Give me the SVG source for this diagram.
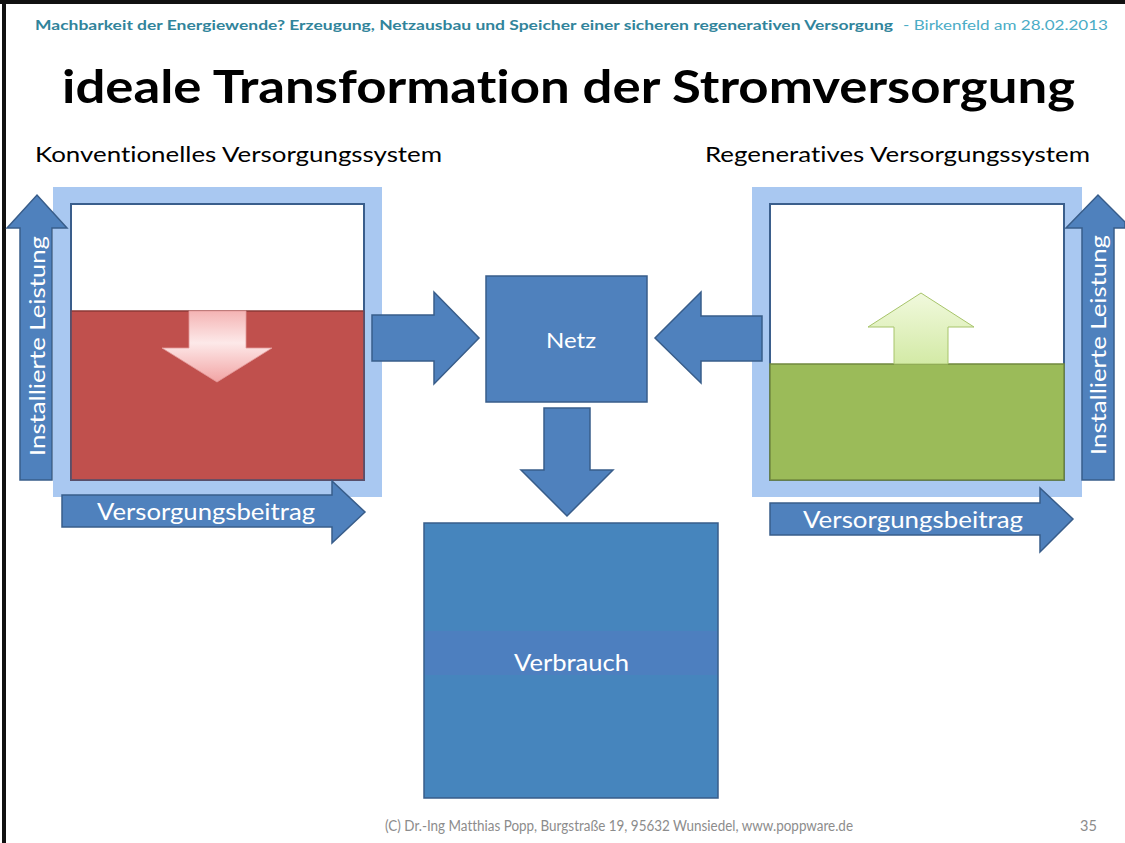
<svg xmlns="http://www.w3.org/2000/svg" width="1125" height="843" viewBox="0 0 1125 843">
  <defs>
    <linearGradient id="pinkGrad" x1="0" y1="0" x2="0" y2="1">
      <stop offset="0" stop-color="#f4b4b4"/>
      <stop offset="0.45" stop-color="#fde9e9"/>
      <stop offset="1" stop-color="#f2a4a4"/>
    </linearGradient>
    <linearGradient id="greenGrad" x1="0" y1="0" x2="0" y2="1">
      <stop offset="0" stop-color="#f1f9dd"/>
      <stop offset="1" stop-color="#d3eaa6"/>
    </linearGradient>
    <style>
      text { font-variant-ligatures: none; font-feature-settings: "liga" 0; }
      .arrow { fill: #4f81bd; stroke: #385d8a; stroke-width: 1.5; stroke-linejoin: miter; }
      .frame { fill: #a9c8f1; }
      .inner { fill: #ffffff; stroke: #3b5f8c; stroke-width: 2; }
      .wtxt { fill: #ffffff; font-family: Lato, "Open Sans", "Liberation Sans", sans-serif; }
      .btxt { fill: #000000; font-family: Lato, "Open Sans", "Liberation Sans", sans-serif; }
    </style>
  </defs>

  <rect x="0" y="0" width="1125" height="843" fill="#ffffff"/>
  <!-- slide border -->
  <rect x="0" y="0" width="1125" height="4" fill="#111111"/>
  <rect x="2" y="0" width="4" height="843" fill="#111111"/>

  <!-- header -->
  <g id="header">
    <text x="35" y="30" font-family="Lato, 'Open Sans', 'Liberation Sans', sans-serif" font-size="13.5" font-weight="bold" fill="#31849b" textLength="858" lengthAdjust="spacingAndGlyphs">Machbarkeit der Energiewende?  Erzeugung, Netzausbau und Speicher einer sicheren regenerativen Versorgung</text>
    <text x="903" y="30" font-family="Lato, 'Open Sans', 'Liberation Sans', sans-serif" font-size="13.5" fill="#4bacc6" textLength="205" lengthAdjust="spacingAndGlyphs">- Birkenfeld am 28.02.2013</text>
  </g>

  <g id="title">
    <text x="62" y="103" class="btxt" font-size="46" font-weight="bold" textLength="1013" lengthAdjust="spacingAndGlyphs">ideale Transformation der Stromversorgung</text>
  </g>

  <g id="subtitles">
    <text x="35" y="162" class="btxt" font-size="22" textLength="407" lengthAdjust="spacingAndGlyphs">Konventionelles Versorgungssystem</text>
    <text x="705" y="162" class="btxt" font-size="22" textLength="385" lengthAdjust="spacingAndGlyphs">Regeneratives Versorgungssystem</text>
  </g>

  <!-- conventional system -->
  <g id="konventionell">
    <rect class="frame" x="53" y="187" width="329" height="310"/>
    <rect class="inner" x="71" y="204" width="293" height="276"/>
    <rect x="71" y="311" width="293" height="169" fill="#c0504d" stroke="#8c3836" stroke-width="1.5"/>
    <rect x="71" y="204" width="293" height="276" fill="none" stroke="#3b5f8c" stroke-width="1"/>
    <polygon points="189,311 246,311 246,348 272,348 217,382 162,348 189,348" fill="url(#pinkGrad)" stroke="#e39a9a" stroke-width="0.8"/>
  </g>

  <!-- regenerative system -->
  <g id="regenerativ">
    <rect class="frame" x="752" y="187" width="330" height="310"/>
    <rect class="inner" x="770" y="204" width="294" height="276"/>
    <rect x="770" y="364" width="294" height="116" fill="#9bbb59" stroke="#71893f" stroke-width="1.5"/>
    <polygon points="894,364 948,364 948,327 974,327 921,293 868,327 894,327" fill="url(#greenGrad)" stroke="#a7c46a" stroke-width="1"/>
  </g>

  <!-- axis arrows -->
  <g id="axis-left">
    <polygon class="arrow" points="20,480 52,480 52,228 67,228 37,195 7,228 20,228"/>
    <text class="wtxt" font-size="22" transform="translate(45,346) rotate(-90)" text-anchor="middle" textLength="220" lengthAdjust="spacingAndGlyphs">Installierte Leistung</text>
    <polygon class="arrow" points="62,495 332,495 332,481 365,512 332,543 332,527 62,527"/>
    <text class="wtxt" x="97" y="520" font-size="24" textLength="218" lengthAdjust="spacingAndGlyphs">Versorgungsbeitrag</text>
  </g>

  <g id="axis-right">
    <polygon class="arrow" points="1082,480 1114,480 1114,228 1125,228 1125,222 1098,195 1066,228 1082,228"/>
    <text class="wtxt" font-size="22" transform="translate(1106,345) rotate(-90)" text-anchor="middle" textLength="220" lengthAdjust="spacingAndGlyphs">Installierte Leistung</text>
    <polygon class="arrow" points="770,503 1040,503 1040,488 1073,519 1040,552 1040,535 770,535"/>
    <text class="wtxt" x="803" y="528" font-size="24" textLength="220" lengthAdjust="spacingAndGlyphs">Versorgungsbeitrag</text>
  </g>

  <!-- connectors -->
  <g id="connectors">
    <polygon class="arrow" points="372,315 434,315 434,292 479,338 434,384 434,361 372,361"/>
    <polygon class="arrow" points="762,316 701,316 701,292 655,338 701,383 701,361 762,361"/>
    <polygon class="arrow" points="544,408 590,408 590,470 613,470 567,516 521,470 544,470"/>
  </g>

  <g id="netz">
    <rect x="486" y="276" width="161" height="126" fill="#4f81bd" stroke="#385d8a" stroke-width="1.5"/>
    <text class="wtxt" x="546" y="348" font-size="22" textLength="50" lengthAdjust="spacingAndGlyphs">Netz</text>
  </g>

  <g id="verbrauch">
    <rect x="424" y="523" width="294" height="275" fill="#4685bd" stroke="#385d8a" stroke-width="1.5"/>
    <rect x="425" y="631" width="292" height="44" fill="#4d7fbf"/>
    <text class="wtxt" x="514" y="671" font-size="23" textLength="115" lengthAdjust="spacingAndGlyphs">Verbrauch</text>
  </g>

  <g id="footer">
    <text x="385" y="831" font-family="Lato, 'Open Sans', 'Liberation Sans', sans-serif" font-size="14.5" fill="#8c8c8c" textLength="468" lengthAdjust="spacingAndGlyphs">(C) Dr.-Ing Matthias Popp, Burgstraße 19, 95632 Wunsiedel, www.poppware.de</text>
    <text x="1080" y="831" font-family="Lato, 'Open Sans', 'Liberation Sans', sans-serif" font-size="14.5" fill="#8c8c8c">35</text>
  </g>
</svg>
